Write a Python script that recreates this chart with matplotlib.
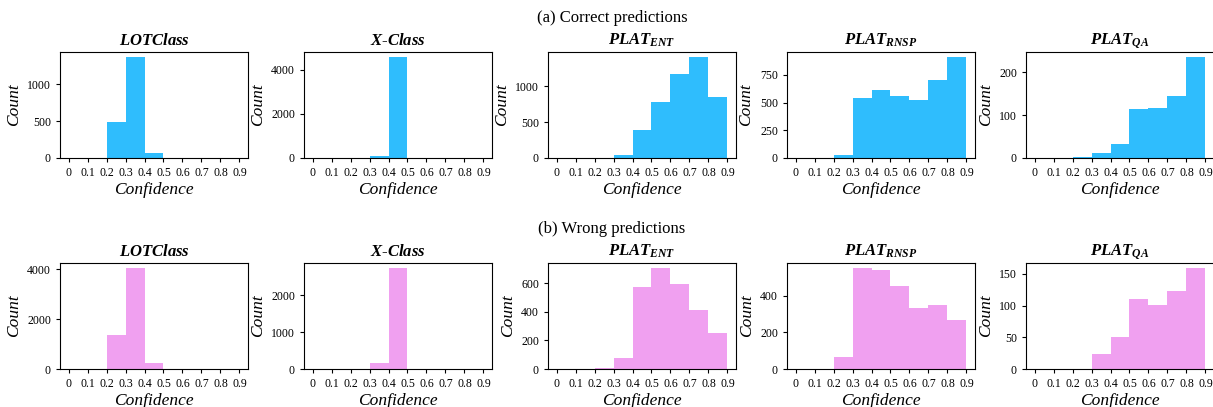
import matplotlib
matplotlib.use('Agg')
import matplotlib.pyplot as plt

plt.rcParams['font.family'] = ['Liberation Serif', 'DejaVu Serif']
plt.rcParams['mathtext.fontset'] = 'custom'
plt.rcParams['mathtext.rm'] = 'Liberation Serif'
plt.rcParams['mathtext.it'] = 'Liberation Serif:italic'
plt.rcParams['mathtext.bf'] = 'Liberation Serif:bold'
plt.rcParams['mathtext.bfit'] = 'Liberation Serif:italic:bold'

# bin left edges (width 0.1) and tick labels
bin_edges = [0.0, 0.1, 0.2, 0.3, 0.4, 0.5, 0.6, 0.7, 0.8]
tick_pos = [0.0, 0.1, 0.2, 0.3, 0.4, 0.5, 0.6, 0.7, 0.8, 0.9]
tick_labels = ['0', '0.1', '0.2', '0.3', '0.4', '0.5', '0.6', '0.7', '0.8', '0.9']

methods = [r'$\mathbfit{LOTClass}$', r'$\mathbfit{X}$-$\mathbfit{Class}$',
           r'$\mathbfit{PLAT}_{\mathbfit{ENT}}$', r'$\mathbfit{PLAT}_{\mathbfit{RNSP}}$',
           r'$\mathbfit{PLAT}_{\mathbfit{QA}}$']

# counts per bin, correct predictions
correct_lotclass = [0, 0, 490, 1370, 70, 0, 0, 0, 0]
correct_xclass = [0, 0, 0, 100, 4580, 0, 0, 0, 0]
correct_ent = [0, 0, 0, 45, 390, 780, 1170, 1410, 850]
correct_rnsp = [0, 0, 30, 545, 615, 555, 525, 705, 910]
correct_qa = [0, 0, 2, 12, 33, 115, 117, 145, 235]

# counts per bin, wrong predictions
wrong_lotclass = [0, 0, 1350, 4050, 230, 20, 0, 0, 0]
wrong_xclass = [0, 0, 0, 160, 2730, 0, 0, 0, 0]
wrong_ent = [0, 0, 5, 80, 575, 705, 595, 415, 250]
wrong_rnsp = [0, 0, 65, 550, 540, 450, 330, 350, 265]
wrong_qa = [0, 0, 0, 23, 50, 110, 101, 123, 159]

rows = [
    ('(a) Correct predictions', '#2fbdfd',
     [correct_lotclass, correct_xclass, correct_ent, correct_rnsp, correct_qa]),
    ('(b) Wrong predictions', '#f0a0f0',
     [wrong_lotclass, wrong_xclass, wrong_ent, wrong_rnsp, wrong_qa]),
]

W, H = 1213, 407
fig = plt.figure(figsize=(W / 100, H / 100), dpi=100)

lefts = [60, 304, 548, 787, 1026]
width = 188
row_boxes = [(52, 158), (263, 369)]
row_title_y = [18, 229]

for r, (row_title, color, data) in enumerate(rows):
    top, bottom = row_boxes[r]
    for c in range(5):
        ax = fig.add_axes([lefts[c] / W, (H - bottom) / H, width / W, (bottom - top) / H])
        ax.bar(bin_edges, data[c], width=0.1, align='edge', color=color)
        ax.set_xticks(tick_pos)
        ax.set_xticklabels(tick_labels)
        ax.tick_params(labelsize=8.5, length=3)
        ax.set_title(methods[c], fontsize=12, pad=5)
        ax.set_xlabel('Confidence', fontsize=12.5, style='italic', labelpad=2)
        ax.set_ylabel('Count', fontsize=12.5, style='italic')
    fig.text(612 / W, 1 - row_title_y[r] / H, row_title, fontsize=12,
             ha='center', va='center')

plt.savefig('out.png', dpi=100)
